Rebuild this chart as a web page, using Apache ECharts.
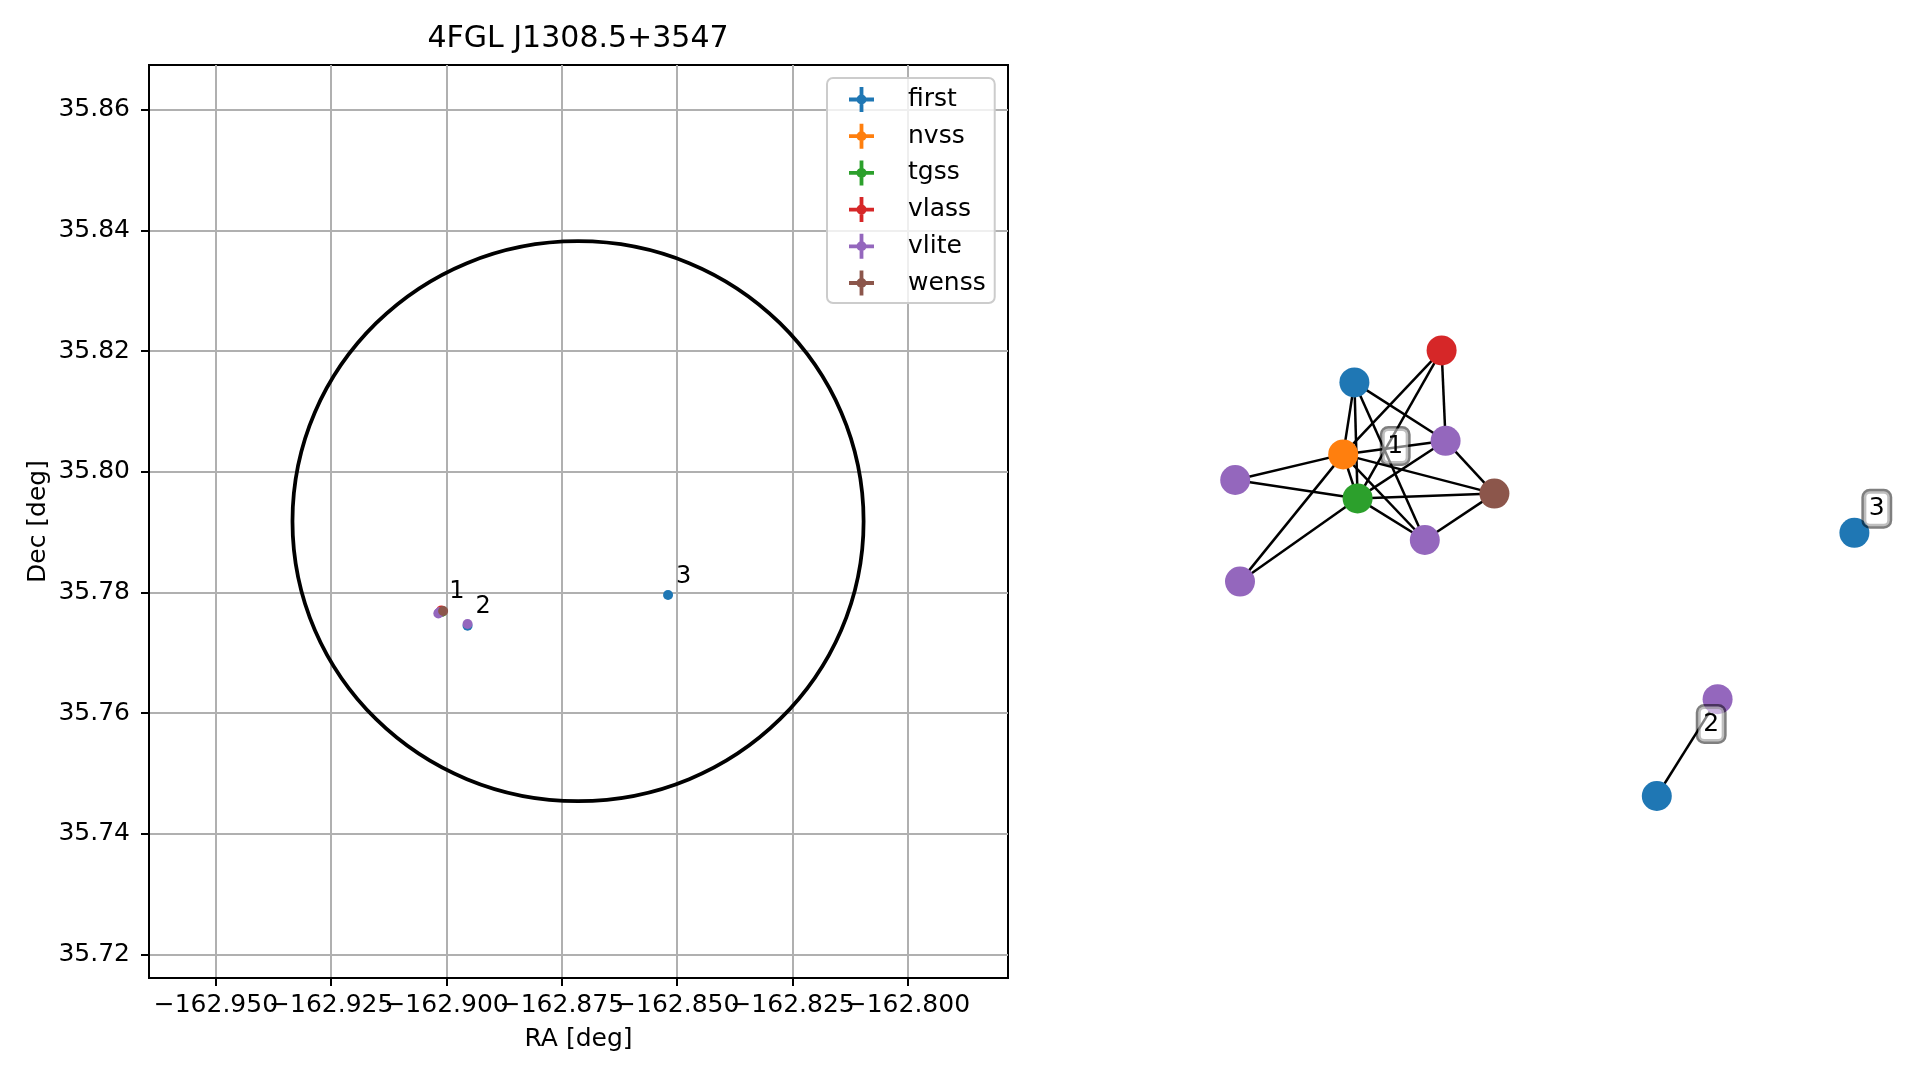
<!DOCTYPE html>
<html><head><meta charset="utf-8">
<script src="https://cdn.jsdelivr.net/npm/echarts@6/dist/echarts.min.js"></script>
<style>html,body{margin:0;padding:0;background:#fff}#c{width:1919px;height:1080px}</style>
</head><body><div id="c"></div>
<script>
// ---------- data ----------
const catalogs = ['first', 'nvss', 'tgss', 'vlass', 'vlite', 'wenss'];
const catalogColors = ['#1f77b4', '#ff7f0e', '#2ca02c', '#d62728', '#9467bd', '#8c564b'];

const firstRA  = [-162.90102, -162.89545, -162.85199];
const firstDec = [35.77683, 35.77447, 35.77956];
const nvssRA   = [-162.90091];
const nvssDec  = [35.77683];
const tgssRA   = [-162.90102];
const tgssDec  = [35.77674];
const vlassRA  = [-162.90113];
const vlassDec = [35.77702];
const vliteRA  = [-162.90178, -162.90156, -162.90134, -162.90167, -162.89545];
const vliteDec = [35.77649, 35.77666, 35.77674, 35.77658, 35.77475];
const wenssRA  = [-162.90074];
const wenssDec = [35.77691];

const groupLabels = ['1', '2', '3'];
const groupRA  = [-162.90113, -162.89545, -162.85199];
const groupDec = [35.77697, 35.77461, 35.77956];

// 4FGL error ellipse: center RA, center Dec, semi-axis RA, semi-axis Dec
const ellipseParams = [-162.8715, 35.7918, 0.0619, 0.0464];

const xTicks = [-162.95, -162.925, -162.9, -162.875, -162.85, -162.825, -162.8];
const yTicks = [35.72, 35.74, 35.76, 35.78, 35.80, 35.82, 35.84, 35.86];
const xRange = [-162.9645, -162.7783];
const yRange = [35.7161, 35.8674];

// association graph (layout coordinates)
const nodeNames = ['first_1','nvss_1','tgss_1','vlass_1','vlite_1a','vlite_1b','vlite_1c','vlite_1d','wenss_1','first_2','vlite_2','first_3'];
const nodeCatalog = ['first','nvss','tgss','vlass','vlite','vlite','vlite','vlite','wenss','first','vlite','first'];
const nodeX = [0.318, 0.304, 0.322, 0.427, 0.432, 0.169, 0.406, 0.175, 0.493, 0.696, 0.772, 0.943];
const nodeY = [0.572, 0.482, 0.427, 0.612, 0.499, 0.450, 0.375, 0.323, 0.433, 0.055, 0.176, 0.384];
const edgeFrom = ['first_1','first_1','first_1','first_1','vlass_1','vlass_1','vlass_1','nvss_1','nvss_1','nvss_1','nvss_1','nvss_1','nvss_1','tgss_1','tgss_1','tgss_1','tgss_1','tgss_1','vlite_1a','wenss_1','first_2'];
const edgeTo   = ['nvss_1','tgss_1','vlite_1a','vlite_1c','nvss_1','tgss_1','vlite_1a','vlite_1a','vlite_1b','tgss_1','wenss_1','vlite_1c','vlite_1d','vlite_1b','vlite_1a','wenss_1','vlite_1c','vlite_1d','wenss_1','vlite_1c','vlite_2'];
const graphLabels = ['1', '2', '3'];
const graphLabelX = [0.369, 0.764, 0.971];
const graphLabelY = [0.4925, 0.145, 0.414];

// ---------- chart ----------
const FONT = 'DejaVu Sans';
const catRA = {first: firstRA, nvss: nvssRA, tgss: tgssRA, vlass: vlassRA, vlite: vliteRA, wenss: wenssRA};
const catDec = {first: firstDec, nvss: nvssDec, tgss: tgssDec, vlass: vlassDec, vlite: vliteDec, wenss: wenssDec};
const colorOf = {};
catalogs.forEach((c, i) => colorOf[c] = catalogColors[i]);

const chart = echarts.init(document.getElementById('c'), null, {renderer: 'canvas'});

const legendIcon = 'path://M0,10.6H10.6V0H14.4V10.6H25V14.4H14.4V25H10.6V14.4H0Z M17.5,12.5A5,5 0 1 1 7.5,12.5A5,5 0 1 1 17.5,12.5Z';

const series = [];
series.push({
  type: 'custom', name: 'ellipse', xAxisIndex: 0, yAxisIndex: 0, silent: true, z: 2,
  data: [ellipseParams],
  renderItem: function (params, api) {
    const c = api.coord([api.value(0), api.value(1)]);
    const s = api.size([api.value(2), api.value(3)]);
    return {type: 'ellipse', shape: {cx: c[0], cy: c[1], rx: s[0], ry: s[1]},
            style: {fill: 'none', stroke: '#000', lineWidth: 3.75}};
  }
});
catalogs.forEach((c, i) => {
  series.push({
    type: 'scatter', name: c, xAxisIndex: 0, yAxisIndex: 0, symbol: 'circle', symbolSize: 10,
    itemStyle: {color: catalogColors[i], opacity: 1}, z: 3,
    data: catRA[c].map((r, k) => [r, catDec[c][k]])
  });
});
series.push({
  type: 'scatter', name: 'groups', xAxisIndex: 0, yAxisIndex: 0, symbolSize: 1,
  itemStyle: {color: 'transparent'}, z: 4, silent: true,
  data: groupLabels.map((g, k) => ({name: g, value: [groupRA[k], groupDec[k]]})),
  label: {show: true, formatter: '{b}', position: [8.5, -18], align: 'left', verticalAlign: 'middle',
          fontSize: 24, fontFamily: FONT, color: '#000', textBorderWidth: 0, opacity: 1}
});
series.push({
  type: 'graph', name: 'assoc', coordinateSystem: 'cartesian2d', xAxisIndex: 1, yAxisIndex: 1,
  layout: 'none', symbol: 'circle', symbolSize: 30, silent: true, z: 2,
  data: nodeNames.map((n, k) => ({name: n, value: [nodeX[k], nodeY[k]], itemStyle: {color: colorOf[nodeCatalog[k]]}})),
  links: edgeFrom.map((s, k) => ({source: s, target: edgeTo[k]})),
  lineStyle: {color: '#000', width: 2.5, opacity: 1, curveness: 0},
  label: {show: false}, emphasis: {disabled: true}
});
series.push({
  type: 'scatter', name: 'graphLabels', xAxisIndex: 1, yAxisIndex: 1, symbolSize: 1,
  itemStyle: {color: 'transparent'}, z: 10, silent: true,
  data: graphLabels.map((g, k) => ({name: g, value: [graphLabelX[k], graphLabelY[k]]})),
  label: {show: true, formatter: '{b}', position: 'inside', fontSize: 25, fontFamily: FONT, color: '#000',
          textBorderWidth: 0, textBorderColor: 'transparent', opacity: 1,
          lineHeight: 25, backgroundColor: 'rgba(255,255,255,0.5)', borderColor: 'rgba(0,0,0,0.5)',
          borderWidth: 2.5, borderRadius: 6, padding: [5, 5]}
});

const axisText = {fontSize: 25, fontFamily: FONT, color: '#000'};
const raFormatter = v => (v < 0 ? '\u2212' : '') + Math.abs(v).toFixed(3);
// tick labels split over two bottom axes so that the touching labels are all kept
const xTicksA = xTicks.filter((t, i) => i % 2 === 0);
const xTicksB = xTicks.filter((t, i) => i % 2 === 1);
function raAxis(ticks, withGrid) {
  return {type: 'value', gridIndex: 0, min: xRange[0], max: xRange[1], position: 'bottom', offset: 0,
    axisLine: {show: withGrid, lineStyle: {color: '#000', width: 2}},
    axisTick: {show: true, length: 8, lineStyle: {color: '#000', width: 2}, customValues: ticks},
    axisLabel: Object.assign({customValues: ticks, margin: 15, lineHeight: 25,
      showMinLabel: true, showMaxLabel: true, formatter: raFormatter}, axisText),
    splitLine: {show: true, lineStyle: {color: '#b0b0b0', width: 2}}
  };
}
const xA = raAxis(xTicksA, true);
Object.assign(xA, {name: 'RA [deg]', nameLocation: 'middle', nameGap: 49,
  nameTextStyle: Object.assign({lineHeight: 25}, axisText)});
const xB = raAxis(xTicksB, false);

const option = {
  animation: false,
  backgroundColor: '#fff',
  graphic: [{type: 'text', x: 578, y: 39.5, style: {text: '4FGL J1308.5+3547', fontSize: 30, fontFamily: FONT,
             fill: '#000', align: 'center', verticalAlign: 'middle'}}],
  legend: {
    data: catalogs, orient: 'vertical', left: 827, top: 78, selectedMode: false,
    icon: legendIcon, itemWidth: 25, itemHeight: 25, itemGap: 11.7,
    padding: [9, 9, 7.5, 22], borderColor: '#cccccc', borderWidth: 2, borderRadius: 6,
    backgroundColor: 'rgba(255,255,255,0.8)',
    textStyle: {fontSize: 25, fontFamily: FONT, color: '#000', lineHeight: 25, padding: [0, 0, 0, 29]}
  },
  grid: [
    {left: 149, top: 65, width: 859, height: 913, show: true, borderColor: '#000', borderWidth: 2,
     backgroundColor: 'transparent', containLabel: false},
    {left: 1100, top: 40, width: 800, height: 800, show: false}
  ],
  xAxis: [
    xA,
    {type: 'value', gridIndex: 1, min: 0, max: 1, show: false},
    xB
  ],
  yAxis: [
    {type: 'value', gridIndex: 0, min: yRange[0], max: yRange[1],
     axisLine: {show: true, lineStyle: {color: '#000', width: 2}},
     axisTick: {show: true, length: 8, lineStyle: {color: '#000', width: 2}, customValues: yTicks},
     axisLabel: Object.assign({customValues: yTicks, margin: 19, showMinLabel: true, showMaxLabel: true,
       formatter: v => v.toFixed(2)}, axisText),
     splitLine: {show: true, lineStyle: {color: '#b0b0b0', width: 2}},
     name: 'Dec [deg]', nameLocation: 'middle', nameGap: 98, nameTextStyle: Object.assign({lineHeight: 25}, axisText)},
    {type: 'value', gridIndex: 1, min: 0, max: 1, show: false}
  ],
  series: series
};
chart.setOption(option);
</script>
</body></html>
